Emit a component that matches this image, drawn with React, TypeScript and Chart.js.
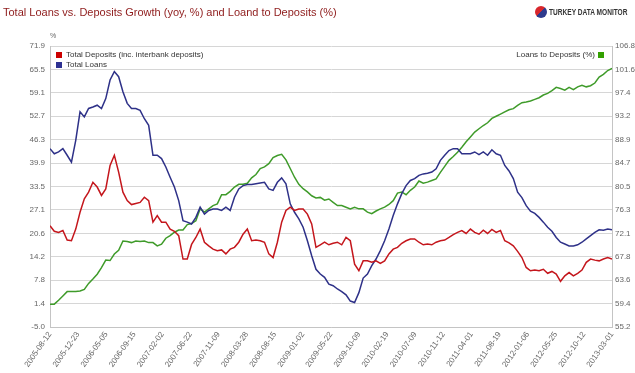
import React, { useEffect, useRef } from "react";
import { Chart, registerables } from "chart.js";

Chart.register(...registerables);

const FONT = "'Liberation Sans', Arial, sans-serif";

const titleText = "Total Loans vs. Deposits Growth (yoy, %) and Loand to Deposits (%)";
const logoText = "TURKEY DATA MONITOR";
const leftAxisTitle = "%";

const seriesNames = [
  "Total Deposits (inc. interbank deposits)",
  "Total Loans",
  "Loans to Deposits (%)",
];

const xTickLabels = [
  "2005-08-12", "2005-12-23", "2006-05-05", "2006-09-15", "2007-02-02",
  "2007-06-22", "2007-11-09", "2008-03-28", "2008-08-15", "2009-01-02",
  "2009-05-22", "2009-10-09", "2010-02-19", "2010-07-09", "2010-11-12",
  "2011-04-01", "2011-08-19", "2012-01-06", "2012-05-25", "2012-10-12",
  "2013-03-01",
];

const leftTickLabels = [
  "-5.0", "1.4", "7.8", "14.2", "20.6", "27.1", "33.5",
  "39.9", "46.3", "52.7", "59.1", "65.5", "71.9",
];

const rightTickLabels = [
  "55.2", "59.4", "63.6", "67.8", "72.1", "76.3", "80.5",
  "84.7", "88.9", "93.2", "97.4", "101.6", "106.8",
];

// Total Deposits growth (yoy, %) - left axis
const depositsGrowth = [
  22.7, 21.2, 20.9, 21.4, 18.8, 18.6, 21.8, 26.4, 30.1, 31.9,
  34.6, 33.3, 31.0, 32.8, 39.2, 42.0, 37.4, 31.9, 29.6, 28.5,
  28.8, 29.1, 30.5, 29.6, 23.7, 25.5, 23.7, 23.7, 21.8, 21.2,
  20.0, 13.6, 13.6, 17.6, 19.5, 21.8, 18.2, 17.2, 16.3, 15.9,
  16.1, 15.0, 16.3, 16.8, 18.2, 20.4, 21.8, 18.6, 18.8, 18.6,
  18.2, 15.0, 14.0, 18.2, 23.7, 26.9, 27.8, 26.9, 27.3, 27.3,
  25.9, 23.2, 16.8, 17.5, 18.2, 17.5, 17.9, 18.2, 17.5, 19.5,
  18.6, 12.2, 10.4, 13.1, 13.1, 12.7, 13.1, 12.4, 13.1, 15.0,
  16.3, 16.8, 17.9, 18.6, 19.1, 19.1, 18.2, 17.5, 17.7, 17.5,
  18.2, 18.6, 18.8, 19.5, 20.3, 20.9, 21.4, 20.6, 21.8, 20.9,
  20.4, 21.5, 20.6, 21.7, 20.9, 21.4, 18.6, 18.0, 17.2, 15.7,
  14.0, 11.3, 10.4, 10.6, 10.4, 10.8, 9.7, 10.2, 9.5, 7.5,
  9.0, 9.9, 9.0, 9.7, 10.6, 12.7, 13.6, 13.3, 13.1, 13.6,
  14.0, 13.6,
];

// Total Loans growth (yoy, %) - left axis
const loansGrowth = [
  43.8, 42.4, 42.9, 43.8, 42.0, 40.1, 46.1, 53.9, 52.5, 54.8,
  55.2, 55.7, 54.8, 57.5, 62.6, 64.9, 63.5, 59.4, 56.2, 54.8,
  54.8, 54.3, 52.0, 50.2, 42.0, 42.0, 41.1, 38.8, 36.0, 33.3,
  29.6, 24.1, 23.7, 23.2, 25.0, 27.8, 25.9, 26.9, 27.3, 27.3,
  26.9, 27.8, 26.9, 30.5, 32.8, 33.7, 34.0, 34.0, 34.2, 34.4,
  34.6, 32.8, 32.4, 34.6, 35.8, 34.2, 28.7, 26.4, 24.6, 22.3,
  18.6, 14.5, 10.8, 9.5, 8.6, 6.7, 6.3, 5.4, 4.7, 3.8,
  2.1, 1.7, 4.4, 8.4, 9.5, 11.8, 13.6, 15.9, 18.6, 21.8,
  25.5, 28.7, 31.5, 33.7, 35.1, 35.6, 36.5, 36.9, 37.1, 37.4,
  38.3, 40.6, 42.0, 43.3, 43.8, 43.8, 42.4, 42.4, 42.4, 42.9,
  42.2, 42.9, 42.0, 43.5, 42.4, 42.0, 39.2, 37.7, 35.6, 31.9,
  30.4, 28.2, 26.7, 26.1, 25.0, 23.7, 22.3, 21.2, 19.5, 18.2,
  17.7, 17.2, 17.2, 17.5, 18.2, 19.1, 20.0, 20.9, 21.6, 21.5,
  21.8, 21.6,
];

// Loans to Deposits (%) - right axis
const loansToDeposits = [
  59.4, 59.4, 60.1, 60.9, 61.7, 61.7, 61.7, 61.8, 62.1, 63.2,
  64.0, 64.9, 66.1, 67.5, 67.4, 68.6, 69.3, 71.0, 70.9, 70.7,
  71.0, 70.9, 71.0, 70.7, 70.7, 70.1, 70.4, 71.5, 72.0, 72.6,
  73.0, 73.0, 74.0, 74.2, 74.7, 76.9, 76.3, 76.9, 77.5, 77.8,
  79.5, 79.5, 80.1, 80.9, 81.4, 81.4, 81.6, 82.6, 83.2, 84.3,
  84.6, 85.2, 86.3, 86.7, 86.9, 85.9, 84.3, 82.7, 81.4, 80.6,
  80.0, 79.3, 78.9, 79.0, 78.5, 78.7, 78.1, 77.5, 77.5, 77.2,
  76.9, 77.2, 76.9, 76.9, 76.3, 76.0, 76.5, 76.9, 77.2, 77.7,
  78.4, 79.8, 80.0, 79.5, 80.3, 80.9, 82.0, 81.6, 81.8, 82.1,
  82.4, 83.6, 84.7, 85.8, 86.5, 87.3, 88.2, 89.2, 90.1, 91.0,
  91.6, 92.2, 92.7, 93.5, 93.9, 94.3, 94.7, 95.1, 95.3, 95.9,
  96.4, 96.5, 96.7, 97.0, 97.3, 97.8, 98.1, 98.6, 99.2, 99.0,
  98.7, 99.2, 98.8, 99.3, 99.6, 99.3, 99.5, 100.0, 101.1, 101.6,
  102.3, 102.7,
];

const COLORS = {
  deposits: "#c4161c",
  loans: "#2e3188",
  ratio: "#3f9b2a",
  depositsBox: "#cc0000",
  loansBox: "#2e3192",
  ratioBox: "#33a000",
  title: "#8e1b1b",
  axisText: "#666666",
  legendText: "#333333",
  grid: "#d6d6d6",
  border: "#c4c4c4",
};

function toPoints(values: number[]) {
  const span = xTickLabels.length - 1;
  const n = values.length;
  return values.map((v, i) => ({ x: (i * span) / (n - 1), y: v }));
}

function evenTicks(labels: string[]) {
  const lo = parseFloat(labels[0]);
  const hi = parseFloat(labels[labels.length - 1]);
  const n = labels.length - 1;
  return labels.map((_, i) => ({ value: lo + ((hi - lo) * i) / n }));
}

export default function App() {
  const canvasRef = useRef<HTMLCanvasElement | null>(null);

  useEffect(() => {
    const canvas = canvasRef.current;
    if (!canvas) return;
    const tickFont = { family: FONT, size: 8 };
    const chart = new Chart(canvas, {
      type: "line",
      data: {
        datasets: [
          {
            label: seriesNames[0],
            data: toPoints(depositsGrowth),
            borderColor: COLORS.deposits,
            yAxisID: "y",
          },
          {
            label: seriesNames[1],
            data: toPoints(loansGrowth),
            borderColor: COLORS.loans,
            yAxisID: "y",
          },
          {
            label: seriesNames[2],
            data: toPoints(loansToDeposits),
            borderColor: COLORS.ratio,
            yAxisID: "y1",
          },
        ],
      },
      options: {
        animation: false,
        responsive: false,
        maintainAspectRatio: false,
        layout: { padding: { top: 46, left: 0, right: 0, bottom: 0 } },
        plugins: {
          legend: { display: false },
          tooltip: { enabled: false },
          title: { display: false },
        },
        elements: {
          point: { radius: 0 },
          line: { borderWidth: 1.5, tension: 0, fill: false },
        },
        scales: {
          x: {
            type: "linear",
            min: 0,
            max: xTickLabels.length - 1,
            afterBuildTicks: (s: any) => {
              s.ticks = xTickLabels.map((_, i) => ({ value: i }));
            },
            afterFit: (s: any) => {
              s.height = 46;
            },
            ticks: {
              autoSkip: false,
              minRotation: 55,
              maxRotation: 55,
              padding: 3,
              font: tickFont,
              color: COLORS.axisText,
              callback: (_v: any, i: number) => xTickLabels[i],
            },
            grid: { display: false, drawTicks: false },
            border: { display: true, color: COLORS.border },
          },
          y: {
            type: "linear",
            position: "left",
            min: parseFloat(leftTickLabels[0]),
            max: parseFloat(leftTickLabels[leftTickLabels.length - 1]),
            afterBuildTicks: (s: any) => {
              s.ticks = evenTicks(leftTickLabels);
            },
            afterFit: (s: any) => {
              s.width = 50;
            },
            ticks: {
              padding: 5,
              font: tickFont,
              color: COLORS.axisText,
              callback: (_v: any, i: number) => leftTickLabels[i],
            },
            grid: { color: COLORS.grid, drawTicks: false },
            border: { display: true, color: COLORS.border },
          },
          y1: {
            type: "linear",
            position: "right",
            min: parseFloat(rightTickLabels[0]),
            max: parseFloat(rightTickLabels[rightTickLabels.length - 1]),
            afterBuildTicks: (s: any) => {
              s.ticks = evenTicks(rightTickLabels);
            },
            afterFit: (s: any) => {
              s.width = 23;
            },
            ticks: {
              padding: 3,
              font: tickFont,
              color: COLORS.axisText,
              callback: (_v: any, i: number) => rightTickLabels[i],
            },
            grid: { display: false, drawTicks: false },
            border: { display: true, color: COLORS.border },
          },
        },
      } as any,
    });
    return () => chart.destroy();
  }, []);

  const box = (color: string, left: number, top: number): React.CSSProperties => ({
    position: "absolute",
    left,
    top,
    width: 6,
    height: 6,
    background: color,
  });
  const legendText = (left: number, top: number): React.CSSProperties => ({
    position: "absolute",
    left,
    top,
    fontFamily: FONT,
    fontSize: 8,
    lineHeight: "10px",
    color: COLORS.legendText,
    whiteSpace: "nowrap",
  });

  return (
    <div
      style={{
        position: "absolute",
        left: 0,
        top: 0,
        width: 635,
        height: 373,
        background: "#ffffff",
        overflow: "hidden",
      }}
    >
      <canvas
        ref={canvasRef}
        width={635}
        height={373}
        style={{ position: "absolute", left: 0, top: 0, width: 635, height: 373 }}
      />
      <div
        style={{
          position: "absolute",
          left: 3,
          top: 6,
          fontFamily: FONT,
          fontSize: 11,
          lineHeight: "13px",
          color: COLORS.title,
          whiteSpace: "nowrap",
        }}
      >
        {titleText}
      </div>
      <div
        style={{
          position: "absolute",
          left: 535,
          top: 6,
          width: 12,
          height: 12,
          borderRadius: 6,
          background: "linear-gradient(135deg, #d8262c 0%, #d8262c 50%, #2e3a8c 50%, #2e3a8c 100%)",
        }}
      />
      <div
        style={{
          position: "absolute",
          left: 549,
          top: 7,
          fontFamily: FONT,
          fontSize: 9,
          fontWeight: "bold",
          lineHeight: "10px",
          color: "#333",
          whiteSpace: "nowrap",
          transform: "scaleX(0.73)",
          transformOrigin: "left top",
        }}
      >
        {logoText}
      </div>
      <div
        style={{
          position: "absolute",
          left: 50,
          top: 32,
          fontFamily: FONT,
          fontSize: 7,
          lineHeight: "8px",
          color: COLORS.axisText,
        }}
      >
        {leftAxisTitle}
      </div>
      <div style={box(COLORS.depositsBox, 56, 52)} />
      <div style={legendText(66, 50)}>{seriesNames[0]}</div>
      <div style={box(COLORS.loansBox, 56, 62)} />
      <div style={legendText(66, 60)}>{seriesNames[1]}</div>
      <div style={{ ...legendText(0, 50), left: "auto", right: 635 - 595 }}>{seriesNames[2]}</div>
      <div style={box(COLORS.ratioBox, 598, 52)} />
    </div>
  );
}
